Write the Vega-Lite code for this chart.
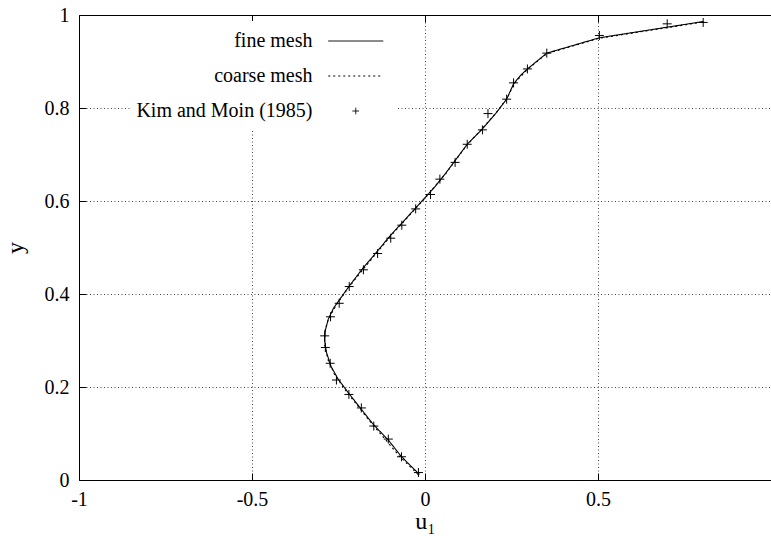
{
  "$schema": "https://vega.github.io/schema/vega-lite/v6.json",
  "width": 692,
  "height": 465,
  "autosize": {"type": "none"},
  "padding": {"left": 79, "top": 15, "right": 0, "bottom": 56},
  "background": "white",
  "config": {
    "view": {"stroke": null},
    "font": "Liberation Serif, Times New Roman, serif",
    "axis": {
      "domainColor": "black",
      "domainWidth": 1,
      "tickColor": "black",
      "tickWidth": 1,
      "labelColor": "black",
      "labelFont": "Liberation Serif, Times New Roman, serif",
      "labelFontSize": 20,
      "titleFont": "Liberation Serif, Times New Roman, serif",
      "titleFontSize": 24,
      "titleFontWeight": "normal",
      "titleColor": "black",
      "labelFlush": false,
      "labelOverlap": false,
      "gridColor": "#444",
      "gridDash": [1, 2.5],
      "gridWidth": 1,
      "gridOpacity": 1
    },
    "legend": {
      "labelFont": "Liberation Serif, Times New Roman, serif",
      "labelFontSize": 20,
      "labelColor": "black",
      "labelLimit": 400,
      "labelAlign": "right",
      "symbolSize": 30.25,
      "symbolStrokeWidth": 1,
      "symbolStrokeColor": "black",
      "rowPadding": 15,
      "padding": 10,
      "fillColor": "white"
    }
  },
  "data": {
    "values": [
      {"series": "fine mesh", "u": -0.016, "y": 0.012},
      {"series": "fine mesh", "u": -0.045, "y": 0.033},
      {"series": "fine mesh", "u": -0.07, "y": 0.052},
      {"series": "fine mesh", "u": -0.105, "y": 0.085},
      {"series": "fine mesh", "u": -0.15, "y": 0.12},
      {"series": "fine mesh", "u": -0.185, "y": 0.153},
      {"series": "fine mesh", "u": -0.222, "y": 0.188},
      {"series": "fine mesh", "u": -0.252, "y": 0.218},
      {"series": "fine mesh", "u": -0.272, "y": 0.245},
      {"series": "fine mesh", "u": -0.285, "y": 0.275},
      {"series": "fine mesh", "u": -0.29, "y": 0.3},
      {"series": "fine mesh", "u": -0.288, "y": 0.322},
      {"series": "fine mesh", "u": -0.28, "y": 0.345},
      {"series": "fine mesh", "u": -0.264, "y": 0.37},
      {"series": "fine mesh", "u": -0.245, "y": 0.39},
      {"series": "fine mesh", "u": -0.22, "y": 0.416},
      {"series": "fine mesh", "u": -0.18, "y": 0.455},
      {"series": "fine mesh", "u": -0.14, "y": 0.49},
      {"series": "fine mesh", "u": -0.1, "y": 0.526},
      {"series": "fine mesh", "u": -0.06, "y": 0.558},
      {"series": "fine mesh", "u": -0.027, "y": 0.585},
      {"series": "fine mesh", "u": 0.0, "y": 0.607},
      {"series": "fine mesh", "u": 0.03, "y": 0.632},
      {"series": "fine mesh", "u": 0.06, "y": 0.66},
      {"series": "fine mesh", "u": 0.09, "y": 0.69},
      {"series": "fine mesh", "u": 0.122, "y": 0.722},
      {"series": "fine mesh", "u": 0.166, "y": 0.755},
      {"series": "fine mesh", "u": 0.204, "y": 0.788},
      {"series": "fine mesh", "u": 0.236, "y": 0.819},
      {"series": "fine mesh", "u": 0.256, "y": 0.852},
      {"series": "fine mesh", "u": 0.276, "y": 0.87},
      {"series": "fine mesh", "u": 0.296, "y": 0.884},
      {"series": "fine mesh", "u": 0.352, "y": 0.918},
      {"series": "fine mesh", "u": 0.504, "y": 0.951},
      {"series": "fine mesh", "u": 0.805, "y": 0.986},
      {"series": "coarse mesh", "u": -0.02, "y": 0.012},
      {"series": "coarse mesh", "u": -0.075, "y": 0.052},
      {"series": "coarse mesh", "u": -0.112, "y": 0.085},
      {"series": "coarse mesh", "u": -0.158, "y": 0.125},
      {"series": "coarse mesh", "u": -0.195, "y": 0.16},
      {"series": "coarse mesh", "u": -0.232, "y": 0.195},
      {"series": "coarse mesh", "u": -0.262, "y": 0.228},
      {"series": "coarse mesh", "u": -0.28, "y": 0.258},
      {"series": "coarse mesh", "u": -0.29, "y": 0.29},
      {"series": "coarse mesh", "u": -0.289, "y": 0.322},
      {"series": "coarse mesh", "u": -0.278, "y": 0.348},
      {"series": "coarse mesh", "u": -0.255, "y": 0.378},
      {"series": "coarse mesh", "u": -0.222, "y": 0.413},
      {"series": "coarse mesh", "u": -0.18, "y": 0.452},
      {"series": "coarse mesh", "u": -0.14, "y": 0.488},
      {"series": "coarse mesh", "u": -0.1, "y": 0.524},
      {"series": "coarse mesh", "u": -0.06, "y": 0.557},
      {"series": "coarse mesh", "u": -0.025, "y": 0.586},
      {"series": "coarse mesh", "u": 0.0, "y": 0.606},
      {"series": "coarse mesh", "u": 0.06, "y": 0.659},
      {"series": "coarse mesh", "u": 0.122, "y": 0.721},
      {"series": "coarse mesh", "u": 0.166, "y": 0.756},
      {"series": "coarse mesh", "u": 0.206, "y": 0.79},
      {"series": "coarse mesh", "u": 0.238, "y": 0.822},
      {"series": "coarse mesh", "u": 0.258, "y": 0.853},
      {"series": "coarse mesh", "u": 0.296, "y": 0.883},
      {"series": "coarse mesh", "u": 0.352, "y": 0.917},
      {"series": "coarse mesh", "u": 0.504, "y": 0.95},
      {"series": "coarse mesh", "u": 0.805, "y": 0.985},
      {"series": "Kim and Moin (1985)", "u": -0.019, "y": 0.016},
      {"series": "Kim and Moin (1985)", "u": -0.068, "y": 0.05},
      {"series": "Kim and Moin (1985)", "u": -0.106, "y": 0.088},
      {"series": "Kim and Moin (1985)", "u": -0.148, "y": 0.116},
      {"series": "Kim and Moin (1985)", "u": -0.184, "y": 0.155},
      {"series": "Kim and Moin (1985)", "u": -0.22, "y": 0.184},
      {"series": "Kim and Moin (1985)", "u": -0.256, "y": 0.215},
      {"series": "Kim and Moin (1985)", "u": -0.274, "y": 0.251},
      {"series": "Kim and Moin (1985)", "u": -0.288, "y": 0.285},
      {"series": "Kim and Moin (1985)", "u": -0.29, "y": 0.31},
      {"series": "Kim and Moin (1985)", "u": -0.273, "y": 0.351},
      {"series": "Kim and Moin (1985)", "u": -0.248, "y": 0.38},
      {"series": "Kim and Moin (1985)", "u": -0.219, "y": 0.416},
      {"series": "Kim and Moin (1985)", "u": -0.178, "y": 0.452},
      {"series": "Kim and Moin (1985)", "u": -0.137, "y": 0.487},
      {"series": "Kim and Moin (1985)", "u": -0.099, "y": 0.52},
      {"series": "Kim and Moin (1985)", "u": -0.067, "y": 0.548},
      {"series": "Kim and Moin (1985)", "u": -0.027, "y": 0.583},
      {"series": "Kim and Moin (1985)", "u": 0.016, "y": 0.614},
      {"series": "Kim and Moin (1985)", "u": 0.043, "y": 0.647},
      {"series": "Kim and Moin (1985)", "u": 0.087, "y": 0.683},
      {"series": "Kim and Moin (1985)", "u": 0.122, "y": 0.722},
      {"series": "Kim and Moin (1985)", "u": 0.166, "y": 0.753},
      {"series": "Kim and Moin (1985)", "u": 0.182, "y": 0.788},
      {"series": "Kim and Moin (1985)", "u": 0.236, "y": 0.819},
      {"series": "Kim and Moin (1985)", "u": 0.256, "y": 0.854},
      {"series": "Kim and Moin (1985)", "u": 0.296, "y": 0.884},
      {"series": "Kim and Moin (1985)", "u": 0.352, "y": 0.918},
      {"series": "Kim and Moin (1985)", "u": 0.504, "y": 0.956},
      {"series": "Kim and Moin (1985)", "u": 0.7, "y": 0.981},
      {"series": "Kim and Moin (1985)", "u": 0.804, "y": 0.984}
    ]
  },
  "layer": [
    {
      "transform": [{"filter": "datum.series !== 'Kim and Moin (1985)'"}],
      "mark": {"type": "line", "color": "black", "strokeWidth": 1.1},
      "encoding": {
        "x": {
          "field": "u", "type": "quantitative",
          "scale": {"domain": [-1, 1], "nice": false, "zero": false},
          "axis": {
            "orient": "bottom", "values": [-1, -0.5, 0, 0.5],
            "labelExpr": "'' + datum.value", "title": "u₁",
            "grid": true, "tickSize": -7, "labelPadding": 16, "titlePadding": 0
          }
        },
        "y": {
          "field": "y", "type": "quantitative",
          "scale": {"domain": [0, 1], "nice": false, "zero": false},
          "axis": {
            "orient": "left", "values": [0, 0.2, 0.4, 0.6, 0.8, 1],
            "labelExpr": "'' + datum.value", "title": "y",
            "grid": true, "tickSize": -7, "labelPadding": 17, "titlePadding": 17
          }
        },
        "order": {"field": "y", "type": "quantitative"},
        "strokeDash": {
          "field": "series", "type": "nominal",
          "scale": {"domain": ["fine mesh", "coarse mesh", "Kim and Moin (1985)"], "range": [[1, 0], [2, 3], [1, 0]]},
          "legend": {"title": null, "orient": "none", "legendX": 52, "legendY": 6, "labelOffset": -53.25, "symbolOffset": 204.75}
        }
      }
    },
    {
      "transform": [{"filter": "datum.series === 'Kim and Moin (1985)'"}],
      "mark": {"type": "point", "filled": false, "color": "black", "strokeWidth": 1, "size": 56.25, "opacity": 1},
      "encoding": {
        "x": {
          "field": "u", "type": "quantitative",
          "axis": {"orient": "top", "values": [-0.5, 0, 0.5], "labels": false, "title": null, "grid": false, "tickSize": -7}
        },
        "y": {"field": "y", "type": "quantitative", "axis": null},
        "shape": {
          "field": "series", "type": "nominal",
          "scale": {"domain": ["fine mesh", "coarse mesh", "Kim and Moin (1985)"], "range": ["M-10,0H10", "M-10,0H10", "M-1.2,0H1.2M0,-1.2V1.2"]},
          "legend": {"title": null, "orient": "none", "legendX": 52, "legendY": 6, "labelOffset": -53.25, "symbolOffset": 204.75}
        }
      }
    }
  ],
  "resolve": {"axis": {"x": "independent", "y": "independent"}}
}
